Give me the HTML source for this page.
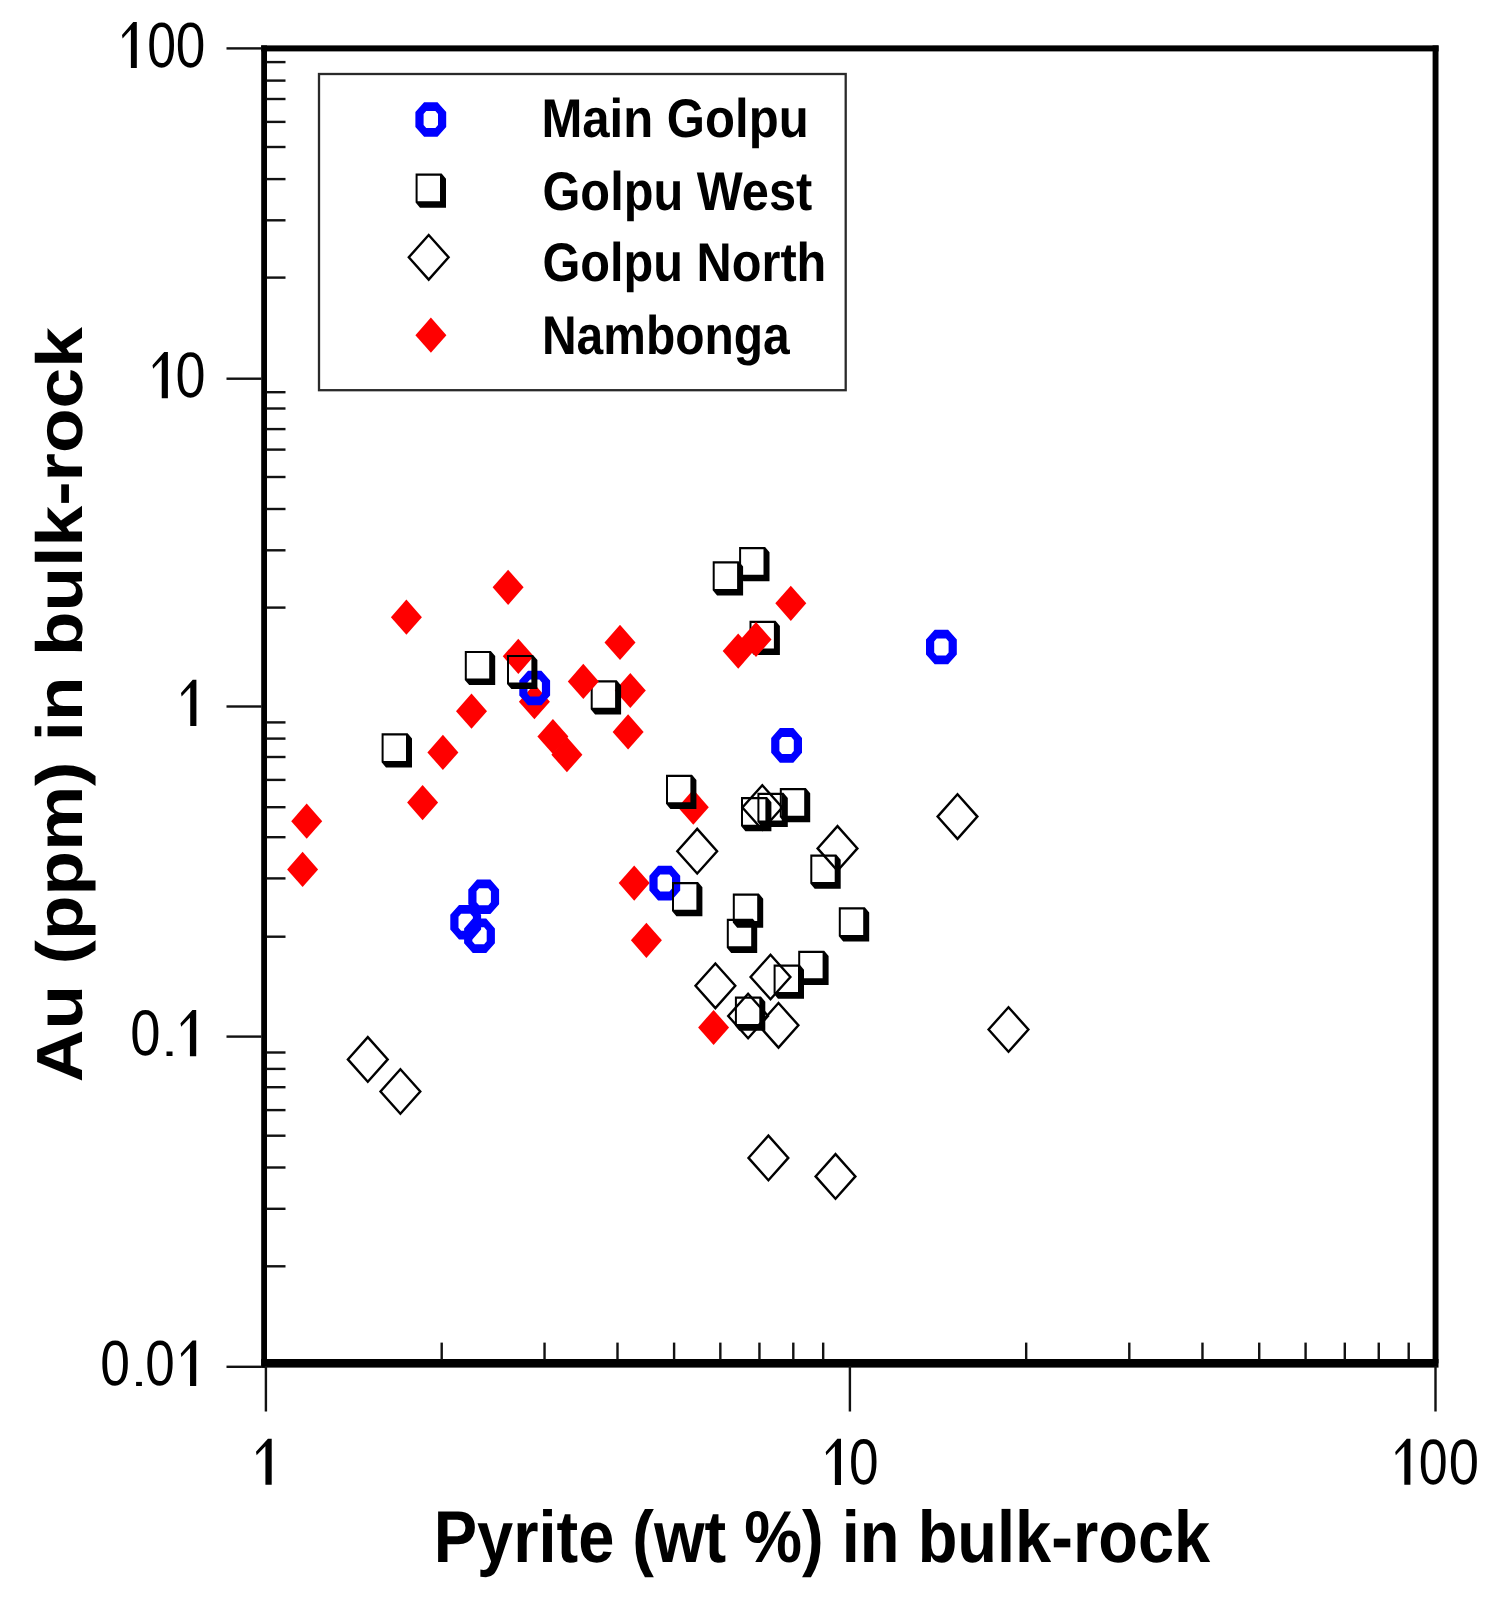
<!DOCTYPE html>
<html><head><meta charset="utf-8"><style>
html,body{margin:0;padding:0;background:#fff;width:1500px;height:1603px;overflow:hidden}
svg{position:absolute;left:0;top:0;display:block;filter:blur(0.5px)}
text{font-family:"Liberation Sans",sans-serif;fill:#000;text-rendering:geometricPrecision}
</style></head><body>
<svg width="1500" height="1603" viewBox="0 0 1500 1603">
<rect width="1500" height="1603" fill="#fff"/>
<rect x="261.2" y="45.4" width="5.8" height="1322.4" fill="#000"/>
<rect x="261.2" y="45.4" width="1177.4" height="6" fill="#000"/>
<rect x="1432.6" y="45.4" width="5.9" height="1318" fill="#000"/>
<rect x="261.2" y="1359" width="1177.3" height="8.6" fill="#000"/>
<rect x="226.5" y="47.20" width="35" height="2.4" fill="#111"/>
<rect x="226.5" y="377.50" width="35" height="2.4" fill="#111"/>
<rect x="226.5" y="705.30" width="35" height="2.4" fill="#111"/>
<rect x="226.5" y="1035.40" width="35" height="2.4" fill="#111"/>
<rect x="226.5" y="1365.60" width="35" height="2.4" fill="#111"/>
<rect x="266.5" y="60.90" width="19" height="2.4" fill="#111"/>
<rect x="266.5" y="79.40" width="19" height="2.4" fill="#111"/>
<rect x="266.5" y="97.80" width="19" height="2.4" fill="#111"/>
<rect x="266.5" y="120.70" width="19" height="2.4" fill="#111"/>
<rect x="266.5" y="145.80" width="19" height="2.4" fill="#111"/>
<rect x="266.5" y="177.90" width="19" height="2.4" fill="#111"/>
<rect x="266.5" y="219.10" width="19" height="2.4" fill="#111"/>
<rect x="266.5" y="276.40" width="19" height="2.4" fill="#111"/>
<rect x="266.5" y="391.00" width="19" height="2.4" fill="#111"/>
<rect x="266.5" y="407.30" width="19" height="2.4" fill="#111"/>
<rect x="266.5" y="427.90" width="19" height="2.4" fill="#111"/>
<rect x="266.5" y="448.40" width="19" height="2.4" fill="#111"/>
<rect x="266.5" y="475.80" width="19" height="2.4" fill="#111"/>
<rect x="266.5" y="507.80" width="19" height="2.4" fill="#111"/>
<rect x="266.5" y="549.10" width="19" height="2.4" fill="#111"/>
<rect x="266.5" y="606.40" width="19" height="2.4" fill="#111"/>
<rect x="266.5" y="721.20" width="19" height="2.4" fill="#111"/>
<rect x="266.5" y="737.40" width="19" height="2.4" fill="#111"/>
<rect x="266.5" y="755.80" width="19" height="2.4" fill="#111"/>
<rect x="266.5" y="778.70" width="19" height="2.4" fill="#111"/>
<rect x="266.5" y="806.00" width="19" height="2.4" fill="#111"/>
<rect x="266.5" y="836.00" width="19" height="2.4" fill="#111"/>
<rect x="266.5" y="877.20" width="19" height="2.4" fill="#111"/>
<rect x="266.5" y="935.50" width="19" height="2.4" fill="#111"/>
<rect x="266.5" y="1051.30" width="19" height="2.4" fill="#111"/>
<rect x="266.5" y="1067.70" width="19" height="2.4" fill="#111"/>
<rect x="266.5" y="1086.00" width="19" height="2.4" fill="#111"/>
<rect x="266.5" y="1108.90" width="19" height="2.4" fill="#111"/>
<rect x="266.5" y="1134.50" width="19" height="2.4" fill="#111"/>
<rect x="266.5" y="1166.30" width="19" height="2.4" fill="#111"/>
<rect x="266.5" y="1207.60" width="19" height="2.4" fill="#111"/>
<rect x="266.5" y="1265.10" width="19" height="2.4" fill="#111"/>
<rect x="264.70" y="1366" width="2.4" height="45.5" fill="#111"/>
<rect x="848.70" y="1366" width="2.4" height="45.5" fill="#111"/>
<rect x="1434.30" y="1366" width="2.4" height="45.5" fill="#111"/>
<rect x="440.50" y="1342.6" width="2.4" height="17" fill="#111"/>
<rect x="543.34" y="1342.6" width="2.4" height="17" fill="#111"/>
<rect x="616.30" y="1342.6" width="2.4" height="17" fill="#111"/>
<rect x="672.90" y="1342.6" width="2.4" height="17" fill="#111"/>
<rect x="719.14" y="1342.6" width="2.4" height="17" fill="#111"/>
<rect x="758.24" y="1342.6" width="2.4" height="17" fill="#111"/>
<rect x="792.10" y="1342.6" width="2.4" height="17" fill="#111"/>
<rect x="821.98" y="1342.6" width="2.4" height="17" fill="#111"/>
<rect x="1024.98" y="1342.6" width="2.4" height="17" fill="#111"/>
<rect x="1128.10" y="1342.6" width="2.4" height="17" fill="#111"/>
<rect x="1201.27" y="1342.6" width="2.4" height="17" fill="#111"/>
<rect x="1258.02" y="1342.6" width="2.4" height="17" fill="#111"/>
<rect x="1304.39" y="1342.6" width="2.4" height="17" fill="#111"/>
<rect x="1343.59" y="1342.6" width="2.4" height="17" fill="#111"/>
<rect x="1377.55" y="1342.6" width="2.4" height="17" fill="#111"/>
<rect x="1407.50" y="1342.6" width="2.4" height="17" fill="#111"/>
<rect x="319" y="74" width="526.7" height="316.2" fill="none" stroke="#2a2a2a" stroke-width="2.3"/>
<path d="M424.1 102.2L437.5 102.2L446.2 112.1L446.2 126.9L437.5 136.8L424.1 136.8L415.4 126.9L415.4 112.1ZM426.2 111.0L435.4 111.0L438.0 114.0L438.0 125.0L435.4 128.0L426.2 128.0L423.6 125.0L423.6 114.0Z" fill="#00f" fill-rule="evenodd"/>
<path d="M415.6 173.6L441.6 173.6L446.0 178.8L446.0 207.8L420.0 207.8L415.6 202.6ZM417.6 175.8L440.0 175.8L440.0 201.2L417.6 201.2Z" fill="#000" fill-rule="evenodd"/>
<path d="M428.7 235.0L448.6 257.3L428.7 279.6L408.8 257.3Z" fill="none" stroke="#000" stroke-width="2.4" stroke-miterlimit="10"/>
<path d="M430.9 317.6L446.4 335.2L430.9 352.8L415.4 335.2Z" fill="#f00"/>
<path d="M406.4 599.6L421.9 617.2L406.4 634.8L390.9 617.2Z" fill="#f00"/>
<path d="M508.1 569.7L523.6 587.3L508.1 604.9L492.6 587.3Z" fill="#f00"/>
<path d="M518.3 638.7L533.8 656.3L518.3 673.9L502.8 656.3Z" fill="#f00"/>
<path d="M534.4 684.1L549.9 701.7L534.4 719.3L518.9 701.7Z" fill="#f00"/>
<path d="M471.5 693.6L487.0 711.2L471.5 728.8L456.0 711.2Z" fill="#f00"/>
<path d="M620.0 624.8L635.5 642.4L620.0 660.0L604.5 642.4Z" fill="#f00"/>
<path d="M630.3 672.9L645.8 690.5L630.3 708.1L614.8 690.5Z" fill="#f00"/>
<path d="M628.1 714.3L643.6 731.9L628.1 749.5L612.6 731.9Z" fill="#f00"/>
<path d="M552.9 718.9L568.4 736.5L552.9 754.1L537.4 736.5Z" fill="#f00"/>
<path d="M566.9 737.1L582.4 754.7L566.9 772.3L551.4 754.7Z" fill="#f00"/>
<path d="M442.9 734.8L458.4 752.4L442.9 770.0L427.4 752.4Z" fill="#f00"/>
<path d="M422.6 785.0L438.1 802.6L422.6 820.2L407.1 802.6Z" fill="#f00"/>
<path d="M306.7 803.6L322.2 821.2L306.7 838.8L291.2 821.2Z" fill="#f00"/>
<path d="M302.6 851.8L318.1 869.4L302.6 887.0L287.1 869.4Z" fill="#f00"/>
<path d="M790.8 585.7L806.3 603.3L790.8 620.9L775.3 603.3Z" fill="#f00"/>
<path d="M693.3 789.6L708.8 807.2L693.3 824.8L677.8 807.2Z" fill="#f00"/>
<path d="M634.2 865.5L649.7 883.1L634.2 900.7L618.7 883.1Z" fill="#f00"/>
<path d="M646.4 922.7L661.9 940.3L646.4 957.9L630.9 940.3Z" fill="#f00"/>
<path d="M713.6 1009.9L729.1 1027.5L713.6 1045.1L698.1 1027.5Z" fill="#f00"/>
<path d="M528.0 670.7L541.4 670.7L550.1 680.6L550.1 695.4L541.4 705.3L528.0 705.3L519.3 695.4L519.3 680.6ZM530.1 679.5L539.3 679.5L541.9 682.5L541.9 693.5L539.3 696.5L530.1 696.5L527.5 693.5L527.5 682.5Z" fill="#00f" fill-rule="evenodd"/>
<path d="M477.0 879.5L490.4 879.5L499.1 889.4L499.1 904.2L490.4 914.1L477.0 914.1L468.3 904.2L468.3 889.4ZM479.1 888.3L488.3 888.3L490.9 891.3L490.9 902.3L488.3 905.3L479.1 905.3L476.5 902.3L476.5 891.3Z" fill="#00f" fill-rule="evenodd"/>
<path d="M459.0 904.9L472.4 904.9L481.1 914.8L481.1 929.6L472.4 939.5L459.0 939.5L450.3 929.6L450.3 914.8ZM461.1 913.7L470.3 913.7L472.9 916.7L472.9 927.7L470.3 930.7L461.1 930.7L458.5 927.7L458.5 916.7Z" fill="#00f" fill-rule="evenodd"/>
<path d="M472.8 918.5L486.2 918.5L494.9 928.4L494.9 943.2L486.2 953.1L472.8 953.1L464.1 943.2L464.1 928.4ZM474.9 927.3L484.1 927.3L486.7 930.3L486.7 941.3L484.1 944.3L474.9 944.3L472.3 941.3L472.3 930.3Z" fill="#00f" fill-rule="evenodd"/>
<path d="M658.1 865.8L671.5 865.8L680.2 875.7L680.2 890.5L671.5 900.4L658.1 900.4L649.4 890.5L649.4 875.7ZM660.2 874.6L669.4 874.6L672.0 877.6L672.0 888.6L669.4 891.6L660.2 891.6L657.6 888.6L657.6 877.6Z" fill="#00f" fill-rule="evenodd"/>
<path d="M779.9 728.1L793.3 728.1L802.0 738.0L802.0 752.8L793.3 762.7L779.9 762.7L771.2 752.8L771.2 738.0ZM782.0 736.9L791.2 736.9L793.8 739.9L793.8 750.9L791.2 753.9L782.0 753.9L779.4 750.9L779.4 739.9Z" fill="#00f" fill-rule="evenodd"/>
<path d="M934.7 629.7L948.1 629.7L956.8 639.6L956.8 654.4L948.1 664.3L934.7 664.3L926.0 654.4L926.0 639.6ZM936.8 638.5L946.0 638.5L948.6 641.5L948.6 652.5L946.0 655.5L936.8 655.5L934.2 652.5L934.2 641.5Z" fill="#00f" fill-rule="evenodd"/>
<path d="M697.2 828.9L717.1 851.2L697.2 873.5L677.3 851.2Z" fill="none" stroke="#000" stroke-width="2.4" stroke-miterlimit="10"/>
<path d="M762.3 785.2L782.2 807.5L762.3 829.8L742.4 807.5Z" fill="none" stroke="#000" stroke-width="2.4" stroke-miterlimit="10"/>
<path d="M837.5 826.1L857.4 848.4L837.5 870.7L817.6 848.4Z" fill="none" stroke="#000" stroke-width="2.4" stroke-miterlimit="10"/>
<path d="M957.5 794.3L977.4 816.6L957.5 838.9L937.6 816.6Z" fill="none" stroke="#000" stroke-width="2.4" stroke-miterlimit="10"/>
<path d="M715.4 963.5L735.3 985.8L715.4 1008.1L695.5 985.8Z" fill="none" stroke="#000" stroke-width="2.4" stroke-miterlimit="10"/>
<path d="M770.5 954.7L790.4 977.0L770.5 999.3L750.6 977.0Z" fill="none" stroke="#000" stroke-width="2.4" stroke-miterlimit="10"/>
<path d="M748.1 993.7L768.0 1016.0L748.1 1038.3L728.2 1016.0Z" fill="none" stroke="#000" stroke-width="2.4" stroke-miterlimit="10"/>
<path d="M778.5 1003.0L798.4 1025.3L778.5 1047.6L758.6 1025.3Z" fill="none" stroke="#000" stroke-width="2.4" stroke-miterlimit="10"/>
<path d="M1008.5 1007.2L1028.4 1029.5L1008.5 1051.8L988.6 1029.5Z" fill="none" stroke="#000" stroke-width="2.4" stroke-miterlimit="10"/>
<path d="M367.8 1037.1L387.7 1059.4L367.8 1081.7L347.9 1059.4Z" fill="none" stroke="#000" stroke-width="2.4" stroke-miterlimit="10"/>
<path d="M400.4 1069.2L420.3 1091.5L400.4 1113.8L380.5 1091.5Z" fill="none" stroke="#000" stroke-width="2.4" stroke-miterlimit="10"/>
<path d="M768.4 1135.6L788.3 1157.9L768.4 1180.2L748.5 1157.9Z" fill="none" stroke="#000" stroke-width="2.4" stroke-miterlimit="10"/>
<path d="M835.5 1154.1L855.4 1176.4L835.5 1198.7L815.6 1176.4Z" fill="none" stroke="#000" stroke-width="2.4" stroke-miterlimit="10"/>
<path d="M464.8 650.9L490.8 650.9L495.2 656.1L495.2 685.1L469.2 685.1L464.8 679.9ZM466.8 653.1L489.2 653.1L489.2 678.5L466.8 678.5Z" fill="#000" fill-rule="evenodd"/>
<path d="M507.0 654.9L533.0 654.9L537.4 660.1L537.4 689.1L511.4 689.1L507.0 683.9ZM509.0 657.1L531.4 657.1L531.4 682.5L509.0 682.5Z" fill="#000" fill-rule="evenodd"/>
<path d="M590.7 680.2L616.7 680.2L621.1 685.4L621.1 714.4L595.1 714.4L590.7 709.2ZM592.7 682.4L615.1 682.4L615.1 707.8L592.7 707.8Z" fill="#000" fill-rule="evenodd"/>
<path d="M381.6 733.3L407.6 733.3L412.0 738.5L412.0 767.5L386.0 767.5L381.6 762.3ZM383.6 735.5L406.0 735.5L406.0 760.9L383.6 760.9Z" fill="#000" fill-rule="evenodd"/>
<path d="M712.7 561.3L738.7 561.3L743.1 566.5L743.1 595.5L717.1 595.5L712.7 590.3ZM714.7 563.5L737.1 563.5L737.1 588.9L714.7 588.9Z" fill="#000" fill-rule="evenodd"/>
<path d="M739.1 547.1L765.1 547.1L769.5 552.3L769.5 581.3L743.5 581.3L739.1 576.1ZM741.1 549.3L763.5 549.3L763.5 574.7L741.1 574.7Z" fill="#000" fill-rule="evenodd"/>
<path d="M749.5 620.8L775.5 620.8L779.9 626.0L779.9 655.0L753.9 655.0L749.5 649.8ZM751.5 623.0L773.9 623.0L773.9 648.4L751.5 648.4Z" fill="#000" fill-rule="evenodd"/>
<path d="M666.0 774.7L692.0 774.7L696.4 779.9L696.4 808.9L670.4 808.9L666.0 803.7ZM668.0 776.9L690.4 776.9L690.4 802.3L668.0 802.3Z" fill="#000" fill-rule="evenodd"/>
<path d="M741.0 797.1L767.0 797.1L771.4 802.3L771.4 831.3L745.4 831.3L741.0 826.1ZM743.0 799.3L765.4 799.3L765.4 824.7L743.0 824.7Z" fill="#000" fill-rule="evenodd"/>
<path d="M757.4 792.8L783.4 792.8L787.8 798.0L787.8 827.0L761.8 827.0L757.4 821.8ZM759.4 795.0L781.8 795.0L781.8 820.4L759.4 820.4Z" fill="#000" fill-rule="evenodd"/>
<path d="M779.8 788.1L805.8 788.1L810.2 793.3L810.2 822.3L784.2 822.3L779.8 817.1ZM781.8 790.3L804.2 790.3L804.2 815.7L781.8 815.7Z" fill="#000" fill-rule="evenodd"/>
<path d="M810.3 854.5L836.3 854.5L840.7 859.7L840.7 888.7L814.7 888.7L810.3 883.5ZM812.3 856.7L834.7 856.7L834.7 882.1L812.3 882.1Z" fill="#000" fill-rule="evenodd"/>
<path d="M838.8 907.3L864.8 907.3L869.2 912.5L869.2 941.5L843.2 941.5L838.8 936.3ZM840.8 909.5L863.2 909.5L863.2 934.9L840.8 934.9Z" fill="#000" fill-rule="evenodd"/>
<path d="M732.8 893.5L758.8 893.5L763.2 898.7L763.2 927.7L737.2 927.7L732.8 922.5ZM734.8 895.7L757.2 895.7L757.2 921.1L734.8 921.1Z" fill="#000" fill-rule="evenodd"/>
<path d="M726.8 918.7L752.8 918.7L757.2 923.9L757.2 952.9L731.2 952.9L726.8 947.7ZM728.8 920.9L751.2 920.9L751.2 946.3L728.8 946.3Z" fill="#000" fill-rule="evenodd"/>
<path d="M773.6 964.5L799.6 964.5L804.0 969.7L804.0 998.7L778.0 998.7L773.6 993.5ZM775.6 966.7L798.0 966.7L798.0 992.1L775.6 992.1Z" fill="#000" fill-rule="evenodd"/>
<path d="M798.2 950.7L824.2 950.7L828.6 955.9L828.6 984.9L802.6 984.9L798.2 979.7ZM800.2 952.9L822.6 952.9L822.6 978.3L800.2 978.3Z" fill="#000" fill-rule="evenodd"/>
<path d="M734.9 996.5L760.9 996.5L765.3 1001.7L765.3 1030.7L739.3 1030.7L734.9 1025.5ZM736.9 998.7L759.3 998.7L759.3 1024.1L736.9 1024.1Z" fill="#000" fill-rule="evenodd"/>
<path d="M672.0 882.1L698.0 882.1L702.4 887.3L702.4 916.3L676.4 916.3L672.0 911.1ZM674.0 884.3L696.4 884.3L696.4 909.7L674.0 909.7Z" fill="#000" fill-rule="evenodd"/>
<path d="M583.3 663.8L598.8 681.4L583.3 699.0L567.8 681.4Z" fill="#f00"/>
<path d="M756.0 621.9L771.5 639.5L756.0 657.1L740.5 639.5Z" fill="#f00"/>
<path d="M738.2 633.5L753.7 651.1L738.2 668.7L722.7 651.1Z" fill="#f00"/>
<text transform="translate(433.64,1562.30) scale(0.8869,1)" font-weight="bold" font-size="73.30">Pyrite (wt &#37;) in bulk-rock</text>
<text transform="translate(541.43,136.50) scale(0.9006,1)" font-weight="bold" font-size="54.50">Main Golpu</text>
<text transform="translate(542.48,209.60) scale(0.8939,1)" font-weight="bold" font-size="54.50">Golpu West</text>
<text transform="translate(542.48,281.00) scale(0.8931,1)" font-weight="bold" font-size="54.50">Golpu North</text>
<text transform="translate(542.00,354.00) scale(0.8796,1)" font-weight="bold" font-size="54.50">Nambonga</text>
<text transform="translate(82.40,1082.14) rotate(-90) scale(1.1203,1)" font-weight="bold" font-size="65.23">Au (ppm) in bulk-rock</text>
<path d="M136.80 22.00L133.25 22.00L122.00 35.08L122.59 38.52L130.88 29.57L130.88 67.90L136.80 67.90Z" fill="#000"/>
<text transform="translate(147.28,67.20) scale(0.8111,1)" font-size="63.86">0</text>
<text transform="translate(175.74,67.20) scale(0.8331,1)" font-size="63.86">0</text>
<path d="M167.90 352.10L164.20 352.10L152.50 365.27L153.12 368.73L161.74 359.72L161.74 398.30L167.90 398.30Z" fill="#000"/>
<text transform="translate(175.61,397.30) scale(0.8401,1)" font-size="64.28">0</text>
<path d="M196.40 679.80L192.70 679.80L181.00 692.97L181.62 696.43L190.24 687.42L190.24 726.00L196.40 726.00Z" fill="#000"/>
<text transform="translate(130.20,1055.49) scale(0.8427,1)" font-size="64.56">0</text>
<rect x="166.5" y="1051.5" width="6.00" height="4.50" fill="#000"/>
<path d="M196.20 1010.10L192.43 1010.10L180.50 1023.24L181.13 1026.70L189.92 1017.71L189.92 1056.20L196.20 1056.20Z" fill="#000"/>
<text transform="translate(100.33,1385.30) scale(0.8380,1)" font-size="63.72">0</text>
<rect x="136.1" y="1381.9" width="5.80" height="4.10" fill="#000"/>
<text transform="translate(145.34,1385.30) scale(0.8317,1)" font-size="63.72">0</text>
<path d="M196.20 1340.50L192.50 1340.50L180.80 1353.47L181.42 1356.88L190.04 1348.01L190.04 1386.00L196.20 1386.00Z" fill="#000"/>
<path d="M271.70 1438.70L267.93 1438.70L256.00 1451.81L256.63 1455.26L265.42 1446.29L265.42 1484.70L271.70 1484.70Z" fill="#000"/>
<path d="M841.00 1438.70L837.33 1438.70L825.70 1451.90L826.31 1455.37L834.88 1446.34L834.88 1485.00L841.00 1485.00Z" fill="#000"/>
<text transform="translate(849.04,1483.99) scale(0.8259,1)" font-size="64.42">0</text>
<path d="M1410.40 1438.80L1406.75 1438.80L1395.20 1451.91L1395.81 1455.36L1404.32 1446.39L1404.32 1484.80L1410.40 1484.80Z" fill="#000"/>
<text transform="translate(1418.78,1483.80) scale(0.8125,1)" font-size="64.00">0</text>
<text transform="translate(1448.70,1483.80) scale(0.8500,1)" font-size="64.00">0</text>
</svg>
</body></html>
